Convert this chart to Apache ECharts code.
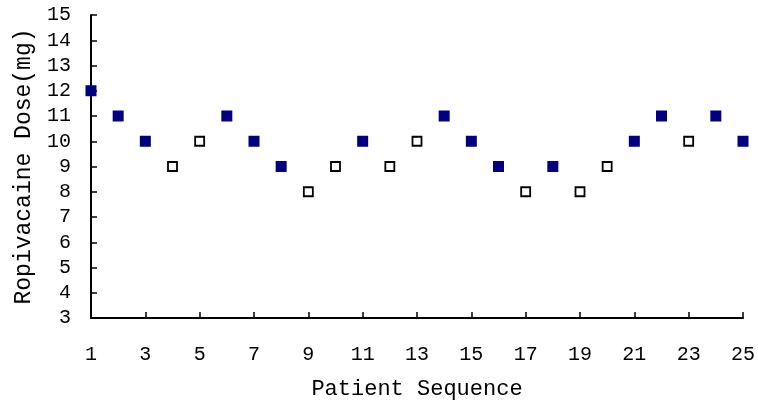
<!DOCTYPE html>
<html>
<head>
<meta charset="utf-8">
<script src="https://cdn.jsdelivr.net/npm/echarts@6/dist/echarts.min.js"></script>
<style>
html,body{margin:0;padding:0;background:#fff;}
#chart{width:758px;height:406px;}
</style>
</head>
<body>
<div id="chart"></div>
<script>
// Data
const patients = [1,2,3,4,5,6,7,8,9,10,11,12,13,14,15,16,17,18,19,20,21,22,23,24,25];
const doses    = [12,11,10,9,10,11,10,9,8,9,10,9,10,11,10,9,8,9,8,9,10,11,10,11,10];
// 1 = filled (navy) square, 0 = open square
const filled   = [1,1,1,0,0,1,1,1,0,0,1,0,0,1,1,1,0,1,0,0,1,1,0,1,1];
const xTickLabels = [1,3,5,7,9,11,13,15,17,19,21,23,25];
const yTickLabels = [3,4,5,6,7,8,9,10,11,12,13,14,15];

const filledData = [], openData = [];
patients.forEach((p, i) => {
  (filled[i] ? filledData : openData).push([p, doses[i]]);
});

const FONT = '"Liberation Mono", "DejaVu Sans Mono", monospace';
const chart = echarts.init(document.getElementById('chart'), null, {renderer: 'canvas'});
chart.setOption({
  animation: false,
  backgroundColor: '#fff',
  grid: {left: 91, right: 13, top: 15, bottom: 88, containLabel: false},
  xAxis: {
    type: 'value',
    min: 1, max: 25,
    name: 'Patient Sequence',
    nameLocation: 'middle',
    nameGap: 60,
    nameTextStyle: {fontFamily: FONT, fontSize: 22, color: '#000'},
    axisLine: {show: true, lineStyle: {color: '#000', width: 2}},
    axisTick: {show: true, inside: true, length: 6, lineStyle: {color: '#000', width: 1.5}, customValues: xTickLabels},
    axisLabel: {customValues: xTickLabels, margin: 27, fontFamily: FONT, fontSize: 20, color: '#000'},
    splitLine: {show: false}
  },
  yAxis: {
    type: 'value',
    min: 3, max: 15,
    interval: 1,
    name: 'Ropivacaine Dose(mg)',
    nameLocation: 'middle',
    nameGap: 56,
    nameTextStyle: {fontFamily: FONT, fontSize: 23, color: '#000'},
    axisLine: {show: true, lineStyle: {color: '#000', width: 2}},
    axisTick: {show: true, inside: true, length: 6, lineStyle: {color: '#000', width: 1.5}, customValues: yTickLabels},
    axisLabel: {customValues: yTickLabels, margin: 20, fontFamily: FONT, fontSize: 20, color: '#000'},
    splitLine: {show: false}
  },
  series: [
    {
      type: 'scatter',
      data: filledData,
      symbol: 'rect',
      symbolSize: 11,
      itemStyle: {color: '#000080', opacity: 1},
      emphasis: {disabled: true},
      z: 3
    },
    {
      type: 'scatter',
      data: openData,
      symbol: 'rect',
      symbolSize: 9,
      itemStyle: {color: '#fff', borderColor: '#000', borderWidth: 1.8, opacity: 1},
      emphasis: {disabled: true},
      z: 3
    }
  ]
});
</script>
</body>
</html>
